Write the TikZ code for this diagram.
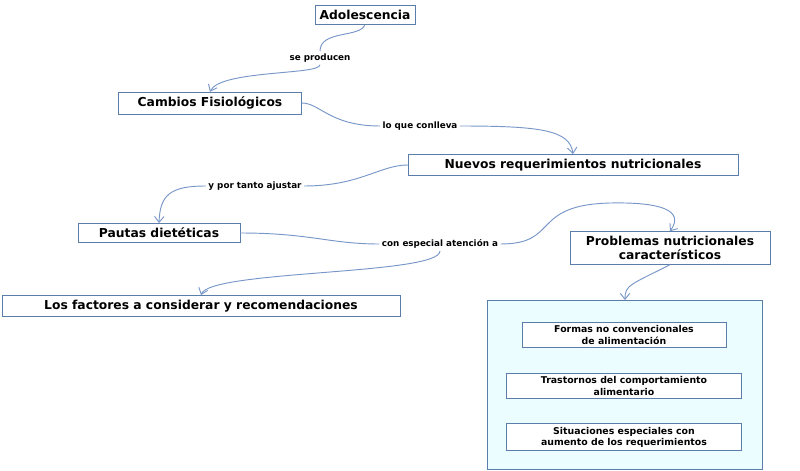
\documentclass[tikz,border=0pt]{standalone}
\usepackage{fontspec}
\setmainfont{DejaVu Sans}
\usetikzlibrary{arrows.meta}
\definecolor{lnk}{RGB}{120,150,200}
\definecolor{bx}{RGB}{90,125,170}
\tikzset{
  concept/.style={draw=bx,fill=white,font=\bfseries\fontsize{10.5}{12}\selectfont,align=center,inner sep=4pt},
  small/.style={draw=bx,fill=white,font=\bfseries\fontsize{8}{9.5}\selectfont,align=center,inner sep=3pt},
  lab/.style={font=\bfseries\fontsize{7.5}{9}\selectfont,inner sep=2pt},
  link/.style={draw=lnk,thick},
  arr/.style={draw=lnk,thick,-{Straight Barb[length=5pt,width=8pt]}}
}
\begin{document}
\begin{tikzpicture}[x=0.03cm,y=-0.03cm]
	\useasboundingbox (0,0) rectangle (800,471);
	\draw[draw=bx,fill=blue!10!cyan!8] (487,300) rectangle (762,469);
	\node[concept,minimum width=97\pgflinewidth] at (365,15) (adol) {Adolescencia};
	\node[lab] at (320,58) (l1) {se producen};
	\node[concept,minimum width=183*0.03cm] at (210,103) (camb) {Cambios Fisiológicos};
	\node[lab] at (420,126) (l2) {lo que conlleva};
	\node[concept,minimum width=330*0.03cm] at (573,165) (nuev) {Nuevos requerimientos nutricionales};
	\node[lab] at (255,186) (l3) {y por tanto ajustar};
	\node[concept,minimum width=162*0.03cm] at (159,233) (paut) {Pautas dietéticas};
	\node[lab] at (440,244) (l4) {con especial atención a};
	\node[concept,minimum width=200*0.03cm] at (670,248) (prob) {Problemas nutricionales\\característicos};
	\node[concept,minimum width=398*0.03cm] at (201,306) (fact) {Los factores a considerar y recomendaciones};
	\node[small,minimum width=204*0.03cm] at (624,335) (f1) {Formas no convencionales\\de alimentación};
	\node[small,minimum width=235*0.03cm] at (624,386) (f2) {Trastornos del comportamiento\\alimentario};
	\node[small,minimum width=235*0.03cm] at (624,437) (f3) {Situaciones especiales con\\aumento de los requerimientos};
	\coordinate (box) at (625,300);
	% enlaces
	\draw[link] (adol.south) .. controls (360,38) and (320,30) .. (l1.north);
	\draw[arr] (l1.south) .. controls (320,75) and (220,70) .. (camb.north);
	\draw[link] (camb.east) .. controls (320,103) and (330,126) .. (l2.west);
	\draw[arr] (l2.east) .. controls (540,126) and (570,130) .. (nuev.north);
	\draw[link] (nuev.west) .. controls (380,165) and (360,186) .. (l3.east);
	\draw[arr] (l3.west) .. controls (170,186) and (160,195) .. (paut.north);
	\draw[link] (paut.east) .. controls (310,233) and (330,244) .. (l4.west);
	\draw[arr] (l4.east) .. controls (560,244) and (530,205) .. (610,203) .. controls (660,202) and (685,210) .. (prob.north);
	\draw[arr] (l4.south) .. controls (440,275) and (210,270) .. (fact.north);
	\draw[arr] (prob.south) .. controls (630,285) and (625,285) .. (box);
\end{tikzpicture}
\end{document}
